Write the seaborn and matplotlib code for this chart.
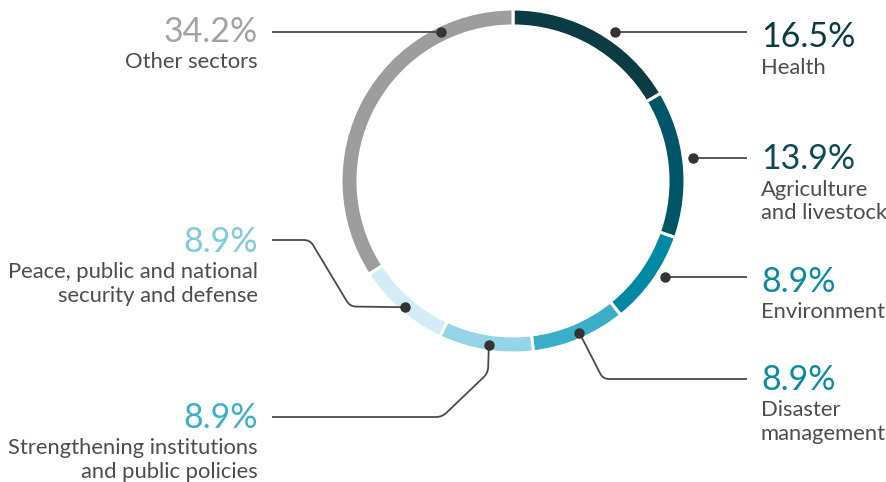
import numpy as np
import matplotlib
matplotlib.use("Agg")
import matplotlib.pyplot as plt
from matplotlib.path import Path
from matplotlib.patches import PathPatch
import seaborn as sns

# Budget shares by sector (%)
sectors = [
    "Health",
    "Agriculture\nand livestock",
    "Environment",
    "Disaster\nmanagement",
    "Strengthening institutions\nand public policies",
    "Peace, public and national\nsecurity and defense",
    "Other sectors",
]
shares = [16.5, 13.9, 8.9, 8.9, 8.9, 8.9, 34.2]
value_labels = ["16.5%", "13.9%", "8.9%", "8.9%", "8.9%", "8.9%", "34.2%"]

wedge_colors = ["#0b3c43", "#005566", "#0089a3", "#3aafc8", "#94d4e7", "#d4ecf5", "#9d9d9d"]
number_colors = ["#0c3b42", "#0c4a55", "#0a8aa2", "#0a8aa2", "#3aafc8", "#7fc9dd", "#a3a3a3"]

sns.set_theme(style="white")
plt.rcParams["font.family"] = ["Lato", "DejaVu Sans"]

W, H = 887, 482
fig = plt.figure(figsize=(W / 100, H / 100), dpi=100)
ax = fig.add_axes([0, 0, 1, 1])

cx, cy = 513, 181          # ring centre in pixel coordinates (y downward)
R, ring = 172, 17


def P(x, y):
    """pixel (y down) -> data (y up)"""
    return x, H - y


wedges, _ = ax.pie(
    shares,
    colors=sns.color_palette(wedge_colors),
    startangle=90,
    counterclock=False,
    radius=R,
    center=P(cx, cy),
    wedgeprops=dict(width=ring, edgecolor="white", linewidth=2.2),
)
ax.set_xlim(0, W)
ax.set_ylim(0, H)
ax.set_aspect("equal")
ax.axis("off")

# where on each wedge the leader line starts: fraction along the arc, radius
anchor_frac = [0.58, 0.47, 0.41, 0.475, 0.475, 0.48, 0.79]
anchor_rad = [181, 181.5, 180, 166, 166, 166, 165]

line_col = "#4a4a4a"
dot_col = "#333333"


def rounded_path(pts, r=6):
    verts = [pts[0]]
    codes = [Path.MOVETO]
    for i in range(1, len(pts) - 1):
        p0, p1, p2 = map(np.asarray, (pts[i - 1], pts[i], pts[i + 1]))
        d0 = (p0 - p1) / np.linalg.norm(p0 - p1)
        d2 = (p2 - p1) / np.linalg.norm(p2 - p1)
        verts += [tuple(p1 + d0 * r), tuple(p1), tuple(p1 + d2 * r)]
        codes += [Path.LINETO, Path.CURVE3, Path.CURVE3]
    verts.append(pts[-1])
    codes.append(Path.LINETO)
    return Path(verts, codes)


anchors = []
for w, f, rr in zip(wedges, anchor_frac, anchor_rad):
    ang = np.deg2rad(w.theta2 - f * (w.theta2 - w.theta1))
    ax_, ay_ = w.center[0] + rr * np.cos(ang), w.center[1] + rr * np.sin(ang)
    anchors.append((ax_, ay_))

# elbows of each leader line, pixel coordinates (after the anchor)
x_right, x_left = 747, 272
elbows = [
    [],
    [],
    [],
    [(603, 379)],
    [(488, 373), (442, 417)],
    [(350, 306.5), (310, 240)],
    [],
]
line_end_y = [None, None, None, 379, 417, 240, None]
side = ["R", "R", "R", "R", "L", "L", "L"]

for i, (a, el) in enumerate(zip(anchors, elbows)):
    pts = [a] + [P(*e) for e in el]
    endy = pts[-1][1] if line_end_y[i] is None else H - line_end_y[i]
    endx = x_right if side[i] == "R" else x_left
    pts.append((endx, endy))
    ax.add_patch(PathPatch(rounded_path(pts), fill=False, edgecolor=line_col,
                           lw=1.3, capstyle="butt", joinstyle="round", zorder=3))
    ax.plot(*a, "o", ms=6.5, color=dot_col, zorder=4)

# text anchor: baseline of the percentage (pixel y)
num_base = [47, 169, 292, 390, 428, 252, 42]
num_size = 24.5
lab_size = 15.8

for i in range(len(sectors)):
    if side[i] == "R":
        tx, ha = 761, "left"
    else:
        tx, ha = 258, "right"
    ax.text(tx, H - num_base[i], value_labels[i], ha=ha, va="baseline",
            fontsize=num_size, color=number_colors[i], fontweight="normal")
    ax.text(tx, H - (num_base[i] + 10.5), sectors[i], ha=ha, va="top",
            fontsize=lab_size, color="#4d4d4d", linespacing=1.2,
            multialignment=ha)

fig.savefig("out.png", dpi=100, facecolor="white")
